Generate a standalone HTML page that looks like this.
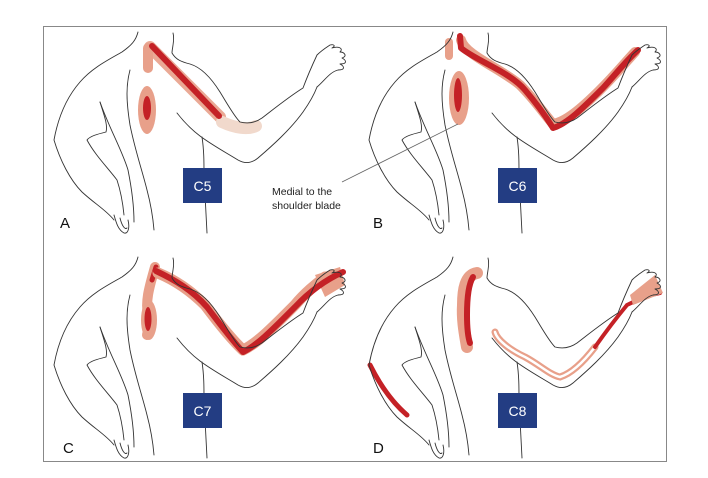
<!DOCTYPE html>
<html><head><meta charset="utf-8"><style>
html,body{margin:0;padding:0;background:#fff;}
svg{display:block;}
text{font-family:"Liberation Sans",sans-serif;}
</style></head><body>
<svg width="708" height="478" viewBox="0 0 708 478" xmlns="http://www.w3.org/2000/svg">
<defs>
<g id="fig" fill="none" stroke="#333" stroke-width="0.9" stroke-linecap="round" stroke-linejoin="round">
  <path d="M138,32 C136,40 132,45 122,52 C108,60 92,68 80,82 C66,98 58,118 54,140 C60,160 70,180 82,192 C95,204 106,210 114,220"/>
  <path d="M100,102 C104,115 108,125 106,132 C98,134 90,136 87,140 C95,155 108,168 117,180 C121,192 123,205 124,215"/>
  <path d="M100,102 C110,130 122,150 128,170 C132,190 134,205 134,222"/>
  <path d="M114,215 C116,222 118,230 124,233 C128,234 130,228 128,220 M120,218 C122,226 125,230 127,228"/>
  <path d="M130,70 C126,85 126,100 130,125 C135,150 142,170 147,190 C151,205 153,218 154,230"/>
  <path d="M173,33 C175,40 172,48 172,53 C176,60 182,62 190,64 C200,67 210,76 220,92 C228,105 234,116 240,122 C248,124 255,123 262,118 C275,108 290,96 303,88 C306,80 310,70 317,55 C322,50 327,47 330,45 C334,44 336,46 332,48 C338,46 344,48 340,52 C344,52 348,56 342,58 C346,60 348,64 340,64 C344,66 346,70 338,70 C330,72 325,80 317,87"/>
  <path d="M177,113 C184,122 192,130 200,136 C212,145 225,152 238,160 C245,164 252,163 258,158 C272,146 290,130 303,112 C310,102 314,95 317,87"/>
  <path d="M202,137 C204,150 204,162 204,175 C205,195 206,215 207,233"/>
</g>
</defs>
<rect x="43.5" y="26.5" width="623" height="435" fill="#fff" stroke="#888" stroke-width="1"/>

<!-- Panel A -->
<g>
  <path d="M150,47 L220,117" stroke="#e8a08a" stroke-width="12" stroke-linecap="round" opacity="0.9"/>
  <path d="M148,48 L148,68" stroke="#e8a08a" stroke-width="10" stroke-linecap="round"/>
  <path d="M222,122 C235,128 248,130 256,126" stroke="#f1d9cc" stroke-width="12" fill="none" stroke-linecap="round"/>
  <path d="M152,46 L219,116" stroke="#c42126" stroke-width="6" stroke-linecap="round"/>
  <ellipse cx="147" cy="110" rx="9" ry="24" fill="#e8a08a"/>
  <ellipse cx="147" cy="108" rx="4" ry="12" fill="#c42126"/>
  <use href="#fig"/>
  <rect x="183" y="168" width="39" height="35" fill="#233d83"/>
  <text x="202.5" y="191" font-size="14" fill="#fff" text-anchor="middle">C5</text>
  <text x="60" y="228" font-size="15" fill="#111">A</text>
</g>

<!-- Panel B -->
<g transform="translate(315,0)">
  <ellipse cx="144" cy="98" rx="10" ry="27" fill="#e8a08a"/>
  <ellipse cx="143" cy="95" rx="4" ry="17" fill="#c42126"/>
  <path d="M134,42 L134,56" stroke="#e8a08a" stroke-width="8" stroke-linecap="round"/>
  <path d="M146,40 C150,55 185,68 205,85 C220,100 230,115 238,124 C250,122 265,110 285,90 C300,75 308,65 320,52" stroke="#e8a08a" stroke-width="10" fill="none" stroke-linecap="round" stroke-linejoin="round"/>
  <path d="M145,36 L146,48 C160,60 195,72 210,90 C222,104 230,115 238,128 C252,124 268,108 288,88 C300,75 310,62 323,50" stroke="#c42126" stroke-width="6" fill="none" stroke-linecap="round" stroke-linejoin="round"/>
  <use href="#fig"/>
  <rect x="183" y="168" width="39" height="35" fill="#233d83"/>
  <text x="202.5" y="191" font-size="14" fill="#fff" text-anchor="middle">C6</text>
  <text x="58" y="228" font-size="15" fill="#111">B</text>
</g>

<!-- Leader + label -->
<line x1="342" y1="182" x2="458" y2="124" stroke="#666" stroke-width="0.8"/>
<text x="272" y="195" font-size="10.5" fill="#222">Medial to the</text>
<text x="272" y="209" font-size="10.5" fill="#222">shoulder blade</text>

<!-- Panel C -->
<g transform="translate(0,225)">
  <path d="M155,42 C150,60 145,75 148,90 C150,100 148,105 147,110" stroke="#e8a08a" stroke-width="10" fill="none" stroke-linecap="round"/>
  <ellipse cx="149" cy="95" rx="8" ry="20" fill="#e8a08a"/>
  <ellipse cx="148" cy="94" rx="3.5" ry="12" fill="#c42126"/>
  <path d="M156,42 L152,55" stroke="#c42126" stroke-width="5" stroke-linecap="round"/>
  <path d="M158,48 C175,55 190,65 205,80 C220,100 232,115 243,125 C258,118 275,100 295,80 C305,68 315,60 325,52" stroke="#e8a08a" stroke-width="11" fill="none" stroke-linecap="round" stroke-linejoin="round"/>
  <path d="M315,50 L340,42 L345,60 L325,72 Z" fill="#e8a08a"/>
  <path d="M156,46 C175,55 192,65 207,82 C222,102 232,115 243,127 C258,120 275,102 295,82 C310,66 325,55 343,47" stroke="#c42126" stroke-width="6" fill="none" stroke-linecap="round" stroke-linejoin="round"/>
  <use href="#fig"/>
  <rect x="183" y="168" width="39" height="35" fill="#233d83"/>
  <text x="202.5" y="191" font-size="14" fill="#fff" text-anchor="middle">C7</text>
  <text x="63" y="228" font-size="15" fill="#111">C</text>
</g>

<!-- Panel D -->
<g transform="translate(315,225)">
  <path d="M162,48 C150,50 148,65 148,80 C147,95 150,110 152,122" stroke="#e8a08a" stroke-width="12" fill="none" stroke-linecap="round"/>
  <path d="M158,52 C153,60 152,75 152,90 C152,105 153,112 155,118" stroke="#c42126" stroke-width="6" fill="none" stroke-linecap="round"/>
  <path d="M55,140 C65,160 78,178 92,190" stroke="#c42126" stroke-width="5" fill="none" stroke-linecap="round"/>
  <path d="M180,107 C182,115 195,125 210,132 C225,140 235,150 245,152 C258,148 270,135 280,122" stroke="#e8a08a" stroke-width="7" fill="none" stroke-linecap="round"/>
  <path d="M180,107 C182,115 195,125 210,132 C225,140 235,150 245,152 C258,148 270,135 280,122" stroke="#fff" stroke-width="2.5" fill="none" stroke-linecap="round"/>
  <path d="M280,122 C292,105 302,92 312,80 C322,75 335,70 345,68" stroke="#c42126" stroke-width="4" fill="none" stroke-linecap="round"/>
  <path d="M315,70 L340,50 L348,68 L318,80 Z" fill="#e8a08a"/>
  <use href="#fig"/>
  <rect x="183" y="168" width="39" height="35" fill="#233d83"/>
  <text x="202.5" y="191" font-size="14" fill="#fff" text-anchor="middle">C8</text>
  <text x="58" y="228" font-size="15" fill="#111">D</text>
</g>
</svg>
</body></html>
